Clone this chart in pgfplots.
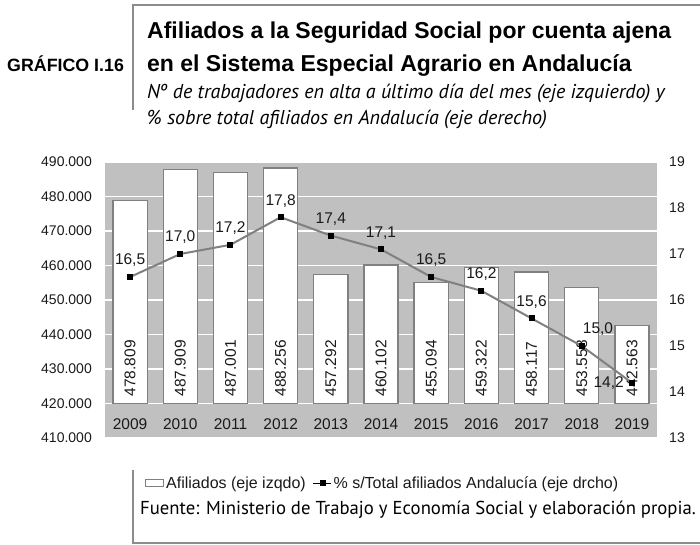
\documentclass[border=0pt]{standalone}
\usepackage{fontspec}
\setmainfont{Liberation Sans}
\newfontfamily\ptsans{PT Sans}
\usepackage{pgfplots}
\pgfplotsset{compat=1.18}
\usepackage{pgfplotstable}

\definecolor{plotbg}{HTML}{C0C0C0}
\definecolor{bargray}{HTML}{808080}
\definecolor{txt}{HTML}{1A1A1A}
\definecolor{framegray}{HTML}{8C8C8C}

\newcommand\fs[1]{\fontsize{#1bp}{#1bp}\selectfont}

% afiliados (eje izqdo) y % s/total (eje drcho)
\pgfplotstableread{
x year afil pct
0 2009 478809 16.5
1 2010 487909 17.0
2 2011 487001 17.2
3 2012 488256 17.8
4 2013 457292 17.4
5 2014 460102 17.1
6 2015 455094 16.5
7 2016 459322 16.2
8 2017 458117 15.6
9 2018 453558 15.0
10 2019 442563 14.2
}\datos

\pgfplotsset{
    base/.style={
        at={(105bp,107bp)}, anchor=south west,
        scale only axis, width=552bp, height=276bp,
        xmin=-0.5, xmax=10.5,
    },
}

\begin{document}
\begin{tikzpicture}[x=1bp, y=1bp]
\useasboundingbox (0,0) rectangle (700,545);

% marco
\draw[framegray, line width=1.3bp] (133,435) -- (133,540) -- (700,540);
\draw[framegray, line width=1.3bp] (133,75) -- (133,2) -- (700,2);

% titulos
\node[anchor=base west, inner sep=0pt] at (7,473) {\fs{17.8}\bfseries GRÁFICO I.16};
\node[anchor=base west, inner sep=0pt] at (147,506) {\fs{23}\bfseries Afiliados a la Seguridad Social por cuenta ajena};
\node[anchor=base west, inner sep=0pt] at (147,473) {\fs{23}\bfseries en el Sistema Especial Agrario en Andalucía};
\node[anchor=base west, inner sep=0pt] at (147,446) {\ptsans\itshape\fs{20}Nº de trabajadores en alta a último día del mes (eje izquierdo) y};
\node[anchor=base west, inner sep=0pt] at (147,420) {\ptsans\itshape\fs{20}\% sobre total afiliados en Andalucía (eje derecho)};
\node[anchor=base west, inner sep=0pt] at (140,30) {\ptsans\fs{18.7}Fuente: Ministerio de Trabajo y Economía Social y elaboración propia.};

% barras: afiliados
\begin{axis}[
    base,
    ybar stacked, bar width=0.68,
    ymin=410000, ymax=490000,
    xtick={0,...,10},
    xticklabels={2009,2010,2011,2012,2013,2014,2015,2016,2017,2018,2019},
    ytick={410000,420000,...,490000},
    scaled y ticks=false,
    /pgf/number format/assume math mode=true,
    yticklabel={\pgfmathprintnumber[fixed, precision=0, 1000 sep={.}]{\tick}},
    axis x line*=bottom, axis y line*=left,
    axis line style={draw=none},
    major tick length=0pt,
    ymajorgrids, grid style={white, line width=1.2bp},
    axis background/.style={fill=plotbg},
    yticklabel style={font=\fs{14}, text=txt, inner sep=0pt, anchor=east, xshift=-13bp},
    xticklabel style={font=\fs{15.5}, text=txt, inner sep=0pt, anchor=center, yshift=14bp},
]
\addplot[draw=none, fill=none] table[x=x, y expr=420000]{\datos};
\addplot[fill=white, draw=bargray, line width=1.3bp]
    table[x=x, y expr=\thisrow{afil}-420000]{\datos};
\end{axis}

% etiquetas de las barras, al pie de cada una
\begin{axis}[
    base, hide axis,
    ymin=410000, ymax=490000,
    /pgf/number format/assume math mode=true,
]
\addplot[draw=none, point meta=\thisrow{afil},
    nodes near coords={\pgfmathprintnumber[fixed, precision=0, 1000 sep={.}]{\pgfplotspointmeta}},
    every node near coord/.append style={font=\fs{15.5}, text=txt, inner sep=0pt, yshift=7bp, rotate=90, anchor=west}]
    table[x=x, y expr=420000]{\datos};
\end{axis}

% linea: % sobre total
\begin{axis}[
    base,
    ymin=13, ymax=19,
    ytick={13,...,19},
    /pgf/number format/assume math mode=true,
    axis y line*=right, axis x line=none,
    axis line style={draw=none},
    major tick length=0pt,
    yticklabel style={font=\fs{14}, text=txt, inner sep=0pt, anchor=west, xshift=12bp},
    legend columns=2,
    legend cell align=left,
    legend style={at={(0.0725,-0.163)}, anchor=west, draw=none, fill=none,
        font=\fs{16}, text=txt, inner sep=0pt,
        /tikz/every even column/.append style={column sep=5bp}},
]
\addplot[bargray, line width=2bp, mark=square*, mark size=2.5bp,
    mark options={black, fill=black, line width=0pt}, forget plot]
    table[x=x, y=pct]{\datos};
\addplot[draw=none, forget plot, restrict x to domain=0:8, point meta=\thisrow{pct},
    nodes near coords={\pgfmathprintnumber[fixed, fixed zerofill, precision=1, use comma]{\pgfplotspointmeta}},
    every node near coord/.append style={font=\fs{15.5}, text=txt, inner sep=0pt, anchor=south, yshift=10bp}]
    table[x=x, y=pct]{\datos};
\addplot[draw=none, forget plot, restrict x to domain=8.5:9.5, point meta=\thisrow{pct},
    nodes near coords={\pgfmathprintnumber[fixed, fixed zerofill, precision=1, use comma]{\pgfplotspointmeta}},
    every node near coord/.append style={font=\fs{15.5}, text=txt, inner sep=0pt, anchor=south west, xshift=1bp, yshift=10bp}]
    table[x=x, y=pct]{\datos};
\addplot[draw=none, forget plot, restrict x to domain=9.5:10.5, point meta=\thisrow{pct},
    nodes near coords={\pgfmathprintnumber[fixed, fixed zerofill, precision=1, use comma]{\pgfplotspointmeta}},
    every node near coord/.append style={font=\fs{15.5}, text=txt, inner sep=0pt, anchor=east, xshift=-8bp}]
    table[x=x, y=pct]{\datos};

\addlegendimage{legend image code/.code={\draw[fill=white, draw=bargray, line width=1bp] (0bp,-3.5bp) rectangle (18bp,3.5bp);}}
\addlegendentry{Afiliados (eje izqdo)}
\addlegendimage{legend image code/.code={\draw[black, line width=0.8bp] (0bp,0bp) -- (18bp,0bp); \fill[black] (6.5bp,-2.5bp) rectangle (11.5bp,2.5bp);}}
\addlegendentry{\% s/Total afiliados Andalucía (eje drcho)}
\end{axis}
\end{tikzpicture}
\end{document}
